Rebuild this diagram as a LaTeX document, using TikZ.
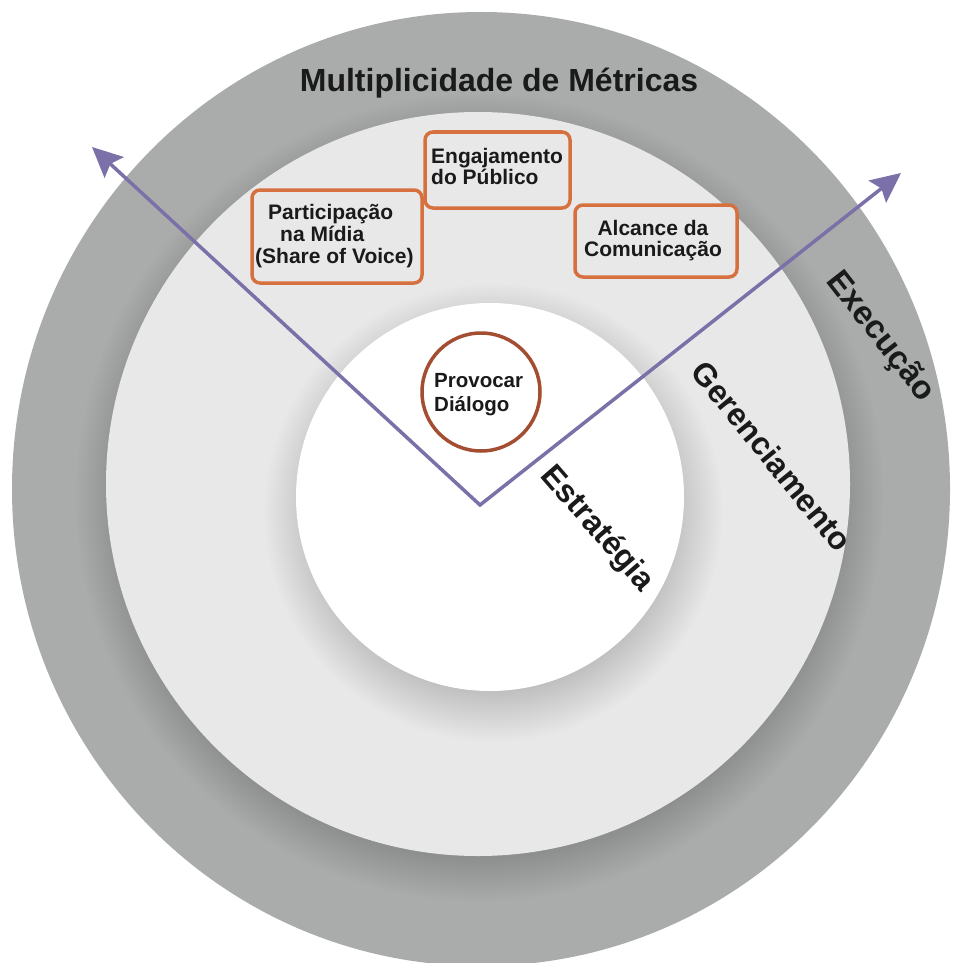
\documentclass[tikz,border=0pt]{standalone}
\usepackage{fontspec}
\setmainfont{Liberation Sans}
\usetikzlibrary{arrows.meta}
\definecolor{ringgray}{HTML}{AAACAC}
\definecolor{ringdark}{HTML}{8E9090}
\definecolor{midgray}{HTML}{E8E8E8}
\definecolor{innershd}{HTML}{C0C0C0}
\definecolor{boxorange}{HTML}{D6703F}
\definecolor{circbrown}{HTML}{A34E31}
\definecolor{arrowpurple}{HTML}{7B70A8}
\definecolor{txt}{HTML}{1A1A1A}
\pgfdeclareradialshading{midshadow}{\pgfpoint{0bp}{0bp}}{color(0bp)=(ringdark); color(22.3bp)=(ringdark); color(25bp)=(ringgray); color(50bp)=(ringgray)}
\pgfdeclareradialshading{innershadow}{\pgfpoint{0bp}{0bp}}{color(0bp)=(innershd); color(19.5bp)=(innershd); color(25bp)=(midgray); color(50bp)=(midgray)}
\begin{document}
\begin{tikzpicture}[x=1pt,y=-1pt,
  metricbox/.style={draw=boxorange, line width=3.5pt, rounded corners=8pt, fill=midgray, inner sep=0pt},
  boxtext/.style={font=\fontsize{21}{21.8}\selectfont\bfseries, text=txt, inner sep=0pt},
  ringlabel/.style={font=\fontsize{32}{36}\selectfont\bfseries, text=txt, inner sep=0pt},
  arrline/.style={draw=arrowpurple, line width=3.5pt, line join=miter}
]
\fill[white] (0,0) rectangle (958,963);
\useasboundingbox (0,0) rectangle (958,963);
\clip (0,0) rectangle (958,963);

% rings
\fill[ringgray] (481,489) ellipse [x radius=469pt, y radius=477pt];
\shade[shading=midshadow] (479,497) circle [radius=405pt];
\fill[midgray] (478,484) circle [radius=372pt];
\shade[shading=innershadow] (493,512) circle [radius=230pt];
\fill[white] (490,497) circle [radius=194pt];

% ring labels
\node[ringlabel, anchor=base] (multi) at (499,92) {Multiplicidade de Métricas};
\node[ringlabel, font=\fontsize{33}{36}\selectfont\bfseries, rotate=-52] (exec) at (880,337) {Execução};
\node[ringlabel, rotate=-51] (ger) at (772,456) {Gerenciamento};
\node[ringlabel, rotate=-49] (estr) at (597,529) {Estratégia};

% metric boxes
\node[metricbox, minimum width=145pt, minimum height=76pt] (bEng) at (497.5,170) {};
\node[boxtext, align=left, anchor=west] (tEng) at (431,166.5) {Engajamento\\do Público};

\node[metricbox, minimum width=170pt, minimum height=93pt] (bPart) at (337,236.5) {};
\node[boxtext, align=left, anchor=west] (tPart) at (255,236) {\hspace*{13pt}Participação\\\hspace*{25pt}na Mídia\\(Share of Voice)};

\node[metricbox, minimum width=162pt, minimum height=72pt] (bAlc) at (656,241) {};
\node[boxtext, align=center] (tAlc) at (653,240.5) {Alcance da\\Comunicação};

% central circle
\node[draw=circbrown, line width=3.5pt, circle, minimum size=118pt, inner sep=0pt] (prov) at (481,392) {};
\node[font=\fontsize{20.5}{23.5}\selectfont\bfseries, text=txt, align=left, anchor=west, inner sep=0pt] (tProv) at (434,394.7) {Provocar\\Diálogo};

% V arrows
\coordinate (V) at (480,505);
\coordinate (L) at (92,147);
\coordinate (R) at (901,173);
\draw[arrline, {Stealth[length=30pt,width=28pt,inset=5pt]}-{Stealth[length=30pt,width=28pt,inset=5pt]}] (L) -- (V) -- (R);
\end{tikzpicture}
\end{document}
